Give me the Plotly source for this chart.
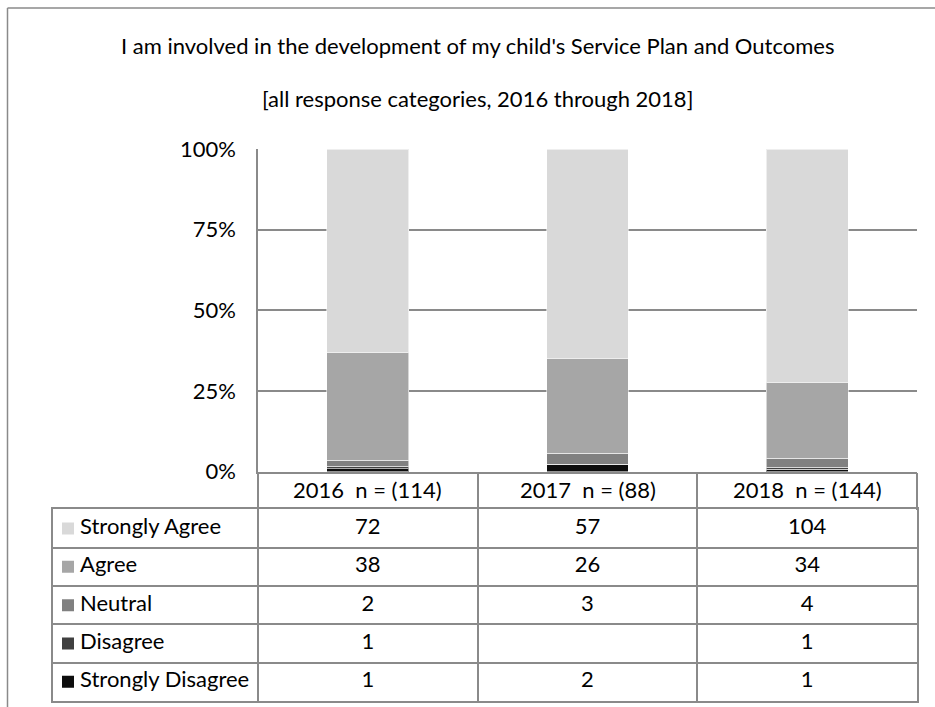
import plotly.graph_objects as go

# Survey responses per year
years = ["2016", "2017", "2018"]
respondents = [114, 88, 144]
categories = ["Strongly Agree", "Agree", "Neutral", "Disagree", "Strongly Disagree"]
strongly_agree = [72, 57, 104]
agree = [38, 26, 34]
neutral = [2, 3, 4]
disagree = [1, None, 1]
strongly_disagree = [1, 2, 1]
y_ticks = [0, 25, 50, 75, 100]

colors = {
    "Strongly Agree": "#d9d9d9",
    "Agree": "#a6a6a6",
    "Neutral": "#808080",
    "Disagree": "#404040",
    "Strongly Disagree": "#0d0d0d",
}
series = {
    "Strongly Agree": strongly_agree,
    "Agree": agree,
    "Neutral": neutral,
    "Disagree": disagree,
    "Strongly Disagree": strongly_disagree,
}

FONT = "Lato"
FS = 22
GRAY = "#8a8a8a"
W, H = 935, 707
ML, MR, MT, MB = 53, 18, 149, 8
PW, PH = W - ML - MR, H - MT - MB

def px_x(p):
    return (p - ML) / PW

def px_y(p):
    return (H - MB - p) / PH

# one column of the chart in pixels, and the wider label column of the table
COL_PX = (917 - 258) / 3
LABEL_COL = (258 - ML) / COL_PX      # label column width, in column units
TABLE_LEFT = -0.5 - LABEL_COL

x_labels = [f"{y}\u00a0 n = ({n})" for y, n in zip(years, respondents)]
txt_font = dict(family=FONT, size=FS, color="#000000")

fig = go.Figure()
# stacked from the bottom: strongly disagree first
for cat in reversed(categories):
    vals = [v if v is not None else 0 for v in series[cat]]
    fig.add_trace(go.Bar(
        x=x_labels, y=vals, name=cat,
        marker=dict(color=colors[cat], line=dict(color="rgba(255,255,255,0.55)", width=1)),
        width=0.372, showlegend=False,
    ))

# data table drawn on its own axes: rows = categories, columns = years
row_idx = list(range(len(categories)))
for i in range(len(years)):
    fig.add_trace(go.Scatter(
        x=[i] * len(categories), y=row_idx, mode="text",
        text=["" if series[c][i] is None else str(series[c][i]) for c in categories],
        textposition="middle center", textfont=txt_font,
        xaxis="x2", yaxis="y2", showlegend=False, hoverinfo="skip",
    ))
# colour keys
fig.add_trace(go.Scatter(
    x=[TABLE_LEFT + 15 / COL_PX] * len(categories), y=row_idx, mode="markers",
    marker=dict(symbol="square", size=12, color=[colors[c] for c in categories], line=dict(width=0)),
    xaxis="x2", yaxis="y2", showlegend=False, hoverinfo="skip",
))
# category names
fig.add_trace(go.Scatter(
    x=[TABLE_LEFT + 27 / COL_PX] * len(categories), y=row_idx, mode="text",
    text=categories, textposition="middle right", textfont=txt_font,
    xaxis="x2", yaxis="y2", showlegend=False, hoverinfo="skip",
))

fig.update_layout(
    width=W, height=H + 15,
    margin=dict(l=ML, r=MR, t=MT, b=MB),
    paper_bgcolor="white", plot_bgcolor="white",
    barmode="stack", barnorm="percent",
    font=txt_font,
    xaxis=dict(
        domain=[px_x(258), 1], type="category",
        showline=True, linecolor=GRAY, linewidth=1.5,
        ticks="outside", tickson="boundaries", ticklen=37, tickwidth=1.5, tickcolor=GRAY,
        showticklabels=False, showgrid=False,
    ),
    yaxis=dict(
        domain=[px_y(470.5), 1], range=[0, 100],
        tickmode="array", tickvals=y_ticks, ticktext=[f"{v}%" for v in y_ticks],
        showgrid=True, gridcolor=GRAY, gridwidth=1.5,
        showline=True, linecolor=GRAY, linewidth=1.5,
        ticks="", ticklabelstandoff=16, tickfont=txt_font,
        zeroline=False,
    ),
    xaxis2=dict(
        domain=[0, 1], range=[TABLE_LEFT, 2.5], anchor="y2",
        tickmode="array", tickvals=[-0.5, 0.5, 1.5], showticklabels=False,
        showgrid=True, gridcolor=GRAY, gridwidth=1.5,
        showline=True, mirror=True, linecolor=GRAY, linewidth=1.5,
        zeroline=False, fixedrange=True,
    ),
    yaxis2=dict(
        domain=[0, px_y(508)], range=[len(categories) - 0.5, -0.5], anchor="x2",
        tickmode="array", tickvals=[k + 0.5 for k in range(len(categories) - 1)],
        showticklabels=False,
        showgrid=True, gridcolor=GRAY, gridwidth=1.5,
        showline=True, mirror=True, linecolor=GRAY, linewidth=1.5,
        zeroline=False, fixedrange=True,
    ),
    annotations=[
        dict(text="I am involved in the development of my child's Service Plan and Outcomes",
             xref="paper", yref="paper", x=px_x(477), y=px_y(45.5), showarrow=False,
             xanchor="center", yanchor="middle", font=txt_font),
        dict(text="[all response categories, 2016 through 2018]",
             xref="paper", yref="paper", x=px_x(477), y=px_y(99), showarrow=False,
             xanchor="center", yanchor="middle", font=txt_font),
    ] + [
        dict(text=lab, xref="x", yref="paper", x=lab, y=px_y(488), showarrow=False,
             xanchor="center", yanchor="middle", font=txt_font)
        for lab in x_labels
    ],
    shapes=[
        dict(type="line", xref="paper", yref="paper", x0=px_x(7.5), x1=px_x(7.5),
             y0=px_y(H + 20), y1=px_y(8.5), line=dict(color=GRAY, width=1.5)),
        dict(type="line", xref="paper", yref="paper", x0=px_x(7.5), x1=px_x(W),
             y0=px_y(8.5), y1=px_y(8.5), line=dict(color=GRAY, width=1.5)),
    ],
)

fig.write_html("out.html")
